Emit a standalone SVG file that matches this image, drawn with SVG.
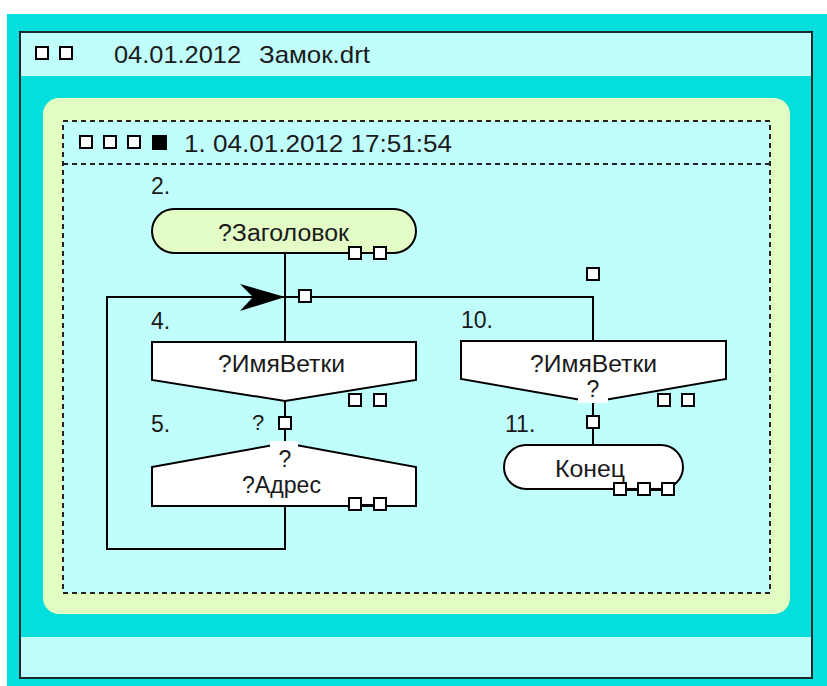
<svg xmlns="http://www.w3.org/2000/svg" width="827" height="686" viewBox="0 0 827 686">
  <style>
    text { font-family: "Liberation Sans", Arial, sans-serif; font-size: 23px; fill: #1a1a1a; }
    .mid { text-anchor: middle; }
    .ln { fill: none; stroke: #000; stroke-width: 2; }
    .pin { fill: #fff; stroke: #000; stroke-width: 2; }
    .shape { fill: #fff; stroke: #000; stroke-width: 2; }
  </style>
  <defs>
    <rect id="pin" width="12" height="12" class="pin"/>
  </defs>

  <!-- window frame -->
  <rect width="827" height="686" fill="#fff"/>
  <rect x="7" y="14" width="820" height="672" fill="#03dfdc"/>
  <rect x="20" y="32" width="792" height="646" fill="#03dfdc" stroke="#1a2a2a" stroke-width="2"/>
  <rect x="21" y="33" width="790" height="43" fill="#c0fefc"/>
  <rect x="21" y="637" width="790" height="40" fill="#c0fefc"/>

  <!-- window title -->
  <g id="title">
    <use href="#pin" x="36" y="47"/>
    <use href="#pin" x="60" y="47"/>
    <text x="114" y="63" textLength="127" lengthAdjust="spacingAndGlyphs" style="font-size:24px">04.01.2012</text>
    <text x="259" y="63" textLength="111" lengthAdjust="spacingAndGlyphs" style="font-size:24px">Замок.drt</text>
  </g>

  <!-- page -->
  <rect x="43" y="98" width="747" height="516" rx="16" fill="#e2fdc2"/>
  <rect x="63" y="121" width="707" height="472" fill="#c0fefc" stroke="#222" stroke-width="2" stroke-dasharray="5 4"/>
  <line x1="63" y1="164" x2="770" y2="164" stroke="#222" stroke-width="2" stroke-dasharray="5 4"/>

  <g id="page-header">
    <use href="#pin" x="80" y="136"/>
    <use href="#pin" x="104" y="136"/>
    <use href="#pin" x="128" y="136"/>
    <rect x="152" y="135" width="15" height="15" fill="#000"/>
    <text x="184" y="152" textLength="268" lengthAdjust="spacingAndGlyphs" style="font-size:24px">1. 04.01.2012 17:51:54</text>
  </g>

  <!-- connectors -->
  <g id="connectors">
    <line class="ln" x1="285" y1="253" x2="285" y2="342"/>
    <polyline class="ln" points="285,506 285,549 107,549 107,297 593,297 593,341"/>
    <path d="M240,284 L285,297 L240,311 L253,297 Z" fill="#000"/>
    <use href="#pin" x="299" y="290"/>
    <use href="#pin" x="587" y="268"/>
    <line class="ln" x1="285" y1="401" x2="285" y2="443"/>
    <use href="#pin" x="279" y="417"/>
    <text x="252" y="430" style="font-size:22px">?</text>
    <line class="ln" x1="593" y1="402" x2="593" y2="445"/>
    <use href="#pin" x="587" y="416"/>
  </g>

  <!-- node 2 -->
  <g id="node-2">
    <text x="151" y="194">2.</text>
    <rect x="152" y="209" width="264" height="44" rx="22" fill="#e4fcc6" stroke="#000" stroke-width="2"/>
    <text x="218" y="241" textLength="131" lengthAdjust="spacingAndGlyphs">?Заголовок</text>
    <line class="ln" x1="361" y1="253" x2="374" y2="253"/>
    <use href="#pin" x="349" y="247"/>
    <use href="#pin" x="374" y="247"/>
  </g>

  <!-- node 4 -->
  <g id="node-4">
    <text x="151" y="329">4.</text>
    <polygon class="shape" points="152,342 416,342 416,380 285,401 152,380"/>
    <text x="218" y="372" textLength="127" lengthAdjust="spacingAndGlyphs">?ИмяВетки</text>
    <use href="#pin" x="349" y="394"/>
    <use href="#pin" x="374" y="394"/>
  </g>

  <!-- node 5 -->
  <g id="node-5">
    <text x="151" y="432">5.</text>
    <polygon class="shape" points="152,467 285,443 416,467 416,506 152,506"/>
    <rect x="270" y="441" width="28" height="14" fill="#fff"/>
    <text class="mid" x="285" y="467">?</text>
    <text x="242" y="493" textLength="79" lengthAdjust="spacingAndGlyphs">?Адрес</text>
    <line class="ln" x1="361" y1="505" x2="374" y2="505"/>
    <use href="#pin" x="349" y="498"/>
    <use href="#pin" x="374" y="498"/>
  </g>

  <!-- node 10 -->
  <g id="node-10">
    <text x="461" y="328">10.</text>
    <polygon class="shape" points="461,341 726,341 726,379 593,402 461,379"/>
    <rect x="578" y="380" width="30" height="23" fill="#fff"/>
    <text x="530" y="372" textLength="127" lengthAdjust="spacingAndGlyphs">?ИмяВетки</text>
    <text class="mid" x="593" y="397">?</text>
    <use href="#pin" x="658" y="394"/>
    <use href="#pin" x="682" y="394"/>
  </g>

  <!-- node 11 -->
  <g id="node-11">
    <text x="505" y="432">11.</text>
    <rect x="504" y="445" width="179" height="44" rx="22" fill="#fff" stroke="#000" stroke-width="2"/>
    <text x="555" y="477" textLength="70" lengthAdjust="spacingAndGlyphs">Конец</text>
    <line class="ln" x1="626" y1="490" x2="662" y2="490"/>
    <use href="#pin" x="614" y="483"/>
    <use href="#pin" x="638" y="483"/>
    <use href="#pin" x="662" y="483"/>
  </g>
</svg>
